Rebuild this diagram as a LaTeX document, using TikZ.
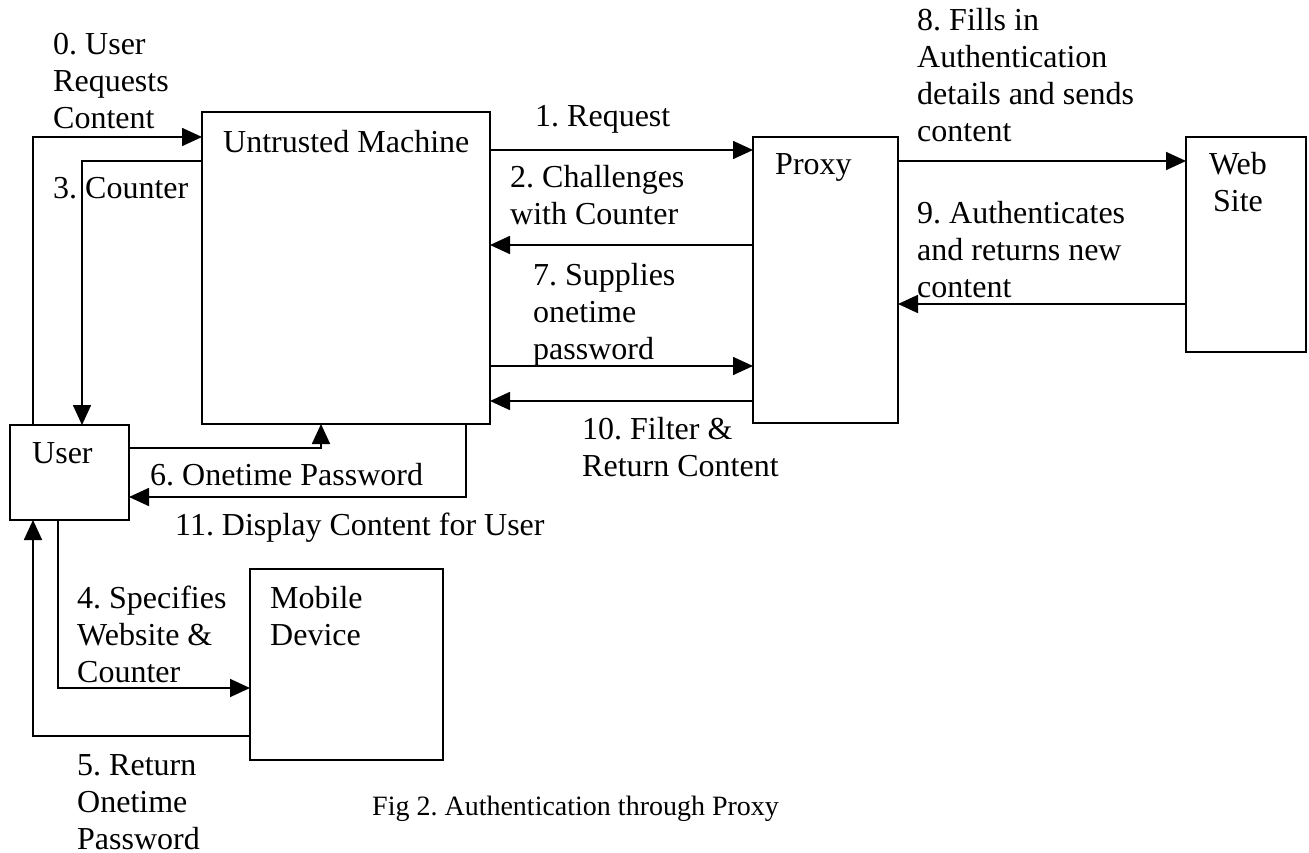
\documentclass[tikz,border=0pt]{standalone}
\usepackage{fontspec}
\setmainfont{Liberation Serif}
\usetikzlibrary{arrows.meta}
\frenchspacing
\newcommand\mlines[1]{\vtop{\let\\\cr\halign{##\hfil\cr#1\crcr}}}
\newcommand\clines[1]{\vtop{\let\\\cr\halign{\hfil##\hfil\cr#1\crcr}}}
\begin{document}
\begin{tikzpicture}[x=1pt,y=-1pt,
  box/.style={draw,line width=2pt,inner sep=0pt,outer sep=0pt,anchor=north west},
  arr/.style={line width=1.7pt,-{Triangle[length=20pt,width=18pt]}},
  lbl/.style={anchor=base west,inner sep=0pt,font=\fontsize{32}{37}\selectfont\frenchspacing},
  clbl/.style={anchor=base,inner sep=0pt,font=\fontsize{32}{37}\selectfont\frenchspacing},
  figcaption/.style={anchor=base west,inner sep=0pt,font=\fontsize{28}{33}\selectfont\frenchspacing}]
\useasboundingbox (0,0) rectangle (1309,853);
% boxes
\node[box,minimum width=288pt,minimum height=312pt] (um) at (202,112) {};
\node[box,minimum width=145pt,minimum height=286pt] (proxy) at (753,137) {};
\node[box,minimum width=120pt,minimum height=215pt] (web) at (1186,137) {};
\node[box,minimum width=119pt,minimum height=95pt] (user) at (10,425) {};
\node[box,minimum width=193pt,minimum height=191pt] (mobile) at (250,569) {};
% box labels
\node[lbl] (umt) at (223,153) {Untrusted Machine};
\node[lbl] (proxyt) at (775,175) {Proxy};
\node[clbl] (webt) at (1238,175) {\clines{Web\\Site}};
\node[lbl] (usert) at (32,463) {User};
\node[lbl] (mobilet) at (270,608) {\mlines{Mobile\\Device}};
% connectors
\draw[arr] ([xshift=23pt]user.north west) |- ([yshift=-25pt]um.north west);
\draw[arr] ([yshift=-49pt]um.north west) -| ([xshift=72pt]user.north west);
\draw[arr] ([yshift=-23pt]user.north east) -| ([xshift=119pt]um.south west);
\draw[arr] ([xshift=264pt]um.south west) |- ([yshift=-72pt]user.north east);
\draw[arr] ([yshift=-38pt]um.north east) -- ([yshift=-13pt]proxy.north west);
\draw[arr] ([yshift=-108pt]proxy.north west) -- ([yshift=-133pt]um.north east);
\draw[arr] ([yshift=-254pt]um.north east) -- ([yshift=-229pt]proxy.north west);
\draw[arr] ([yshift=-264pt]proxy.north west) -- ([yshift=-289pt]um.north east);
\draw[arr] ([yshift=-24pt]proxy.north east) -- ([yshift=-24pt]web.north west);
\draw[arr] ([yshift=-167pt]web.north west) -- ([yshift=-167pt]proxy.north east);
\draw[arr] ([xshift=48pt]user.south west) |- ([yshift=-119pt]mobile.north west);
\draw[arr] ([yshift=-167pt]mobile.north west) -| ([xshift=23pt]user.south west);
% connector labels
\node[lbl] (l0) at (53,55) {\mlines{0. User\\Requests\\Content}};
\node[lbl] (l3) at (53,199) {3. Counter};
\node[lbl] (l1) at (535,127) {1. Request};
\node[lbl] (l2) at (510,188) {\mlines{2. Challenges\\with Counter}};
\node[lbl] (l7) at (533,285) {\mlines{7. Supplies\\onetime\\password}};
\node[lbl] (l10) at (582,439) {\mlines{10. Filter \&\\Return Content}};
\node[lbl] (l8) at (917,31) {\mlines{8. Fills in\\Authentication\\details and sends\\content}};
\node[lbl] (l9) at (917,223) {\mlines{9. Authenticates\\and returns new\\content}};
\node[lbl] (l6) at (150,485) {6. Onetime Password};
\node[lbl] (l11) at (175,535) {11. Display Content for User};
\node[lbl] (l4) at (77,608) {\mlines{4. Specifies\\Website \&\\Counter}};
\node[lbl] (l5) at (77,775) {\mlines{5. Return\\Onetime\\Password}};
\node[figcaption] (caption) at (372,815) {Fig 2. Authentication through Proxy};
\end{tikzpicture}
\end{document}
